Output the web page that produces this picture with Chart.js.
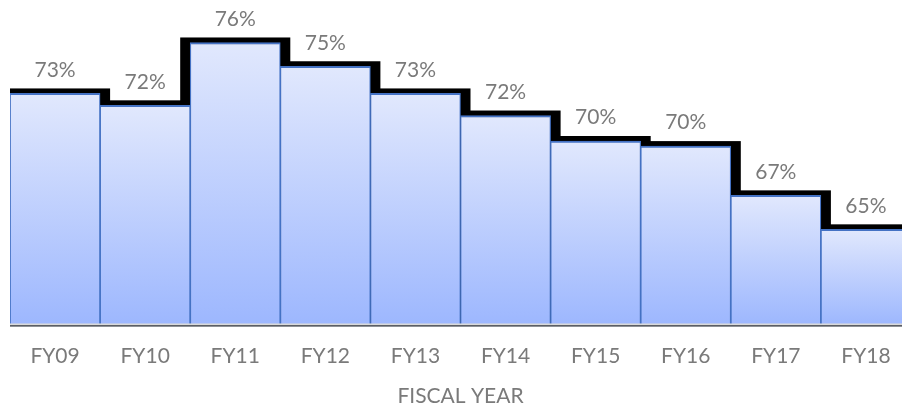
<!DOCTYPE html>
<html>
<head>
<meta charset="utf-8">
<script src="https://cdn.jsdelivr.net/npm/chart.js@4/dist/chart.umd.min.js"></script>
<style>
  html, body { margin: 0; padding: 0; overflow: hidden; background: #fff; }
  #wrap { width: 921px; height: 404px; }
</style>
</head>
<body>
<div id="wrap"><canvas id="fyChart" width="921" height="404"></canvas></div>
<script>
// data (percent)
const years  = ['FY09', 'FY10', 'FY11', 'FY12', 'FY13', 'FY14', 'FY15', 'FY16', 'FY17', 'FY18'];
const shares = [73.0, 72.3, 76.0, 74.6, 73.0, 71.7, 70.2, 69.9, 67.0, 65.0];

const GREY = '#7a7a7a';
Chart.defaults.font.family = 'Lato, "Open Sans", sans-serif';

// black step "shadow" behind the bars
const barShadow = {
  id: 'barShadow',
  beforeDatasetsDraw(chart) {
    const { ctx, chartArea: a } = chart;
    ctx.save();
    ctx.beginPath();
    ctx.rect(a.left, 0, a.right - a.left, a.bottom);
    ctx.clip();
    ctx.fillStyle = '#000';
    chart.getDatasetMeta(0).data.forEach(el => {
      const w = el.width;
      ctx.fillRect(el.x - w / 2 - 10, el.y - 5, w + 20, el.base - el.y + 5);
    });
    ctx.restore();
  }
};

// baseline + value labels
const extras = {
  id: 'extras',
  afterDatasetsDraw(chart) {
    const { ctx, chartArea: a } = chart;
    ctx.save();
    ctx.fillStyle = '#d9d9d9';
    ctx.fillRect(a.left, a.bottom - 1, a.right - a.left, 1.7);
    ctx.fillStyle = '#3b3f48';
    ctx.fillRect(a.left, a.bottom + 0.7, a.right - a.left, 1.4);

    ctx.fillStyle = GREY;
    ctx.font = '21px Lato, "Open Sans", sans-serif';
    ctx.textAlign = 'center';
    ctx.textBaseline = 'middle';
    chart.getDatasetMeta(0).data.forEach((el, i) => {
      ctx.fillText(Math.round(shares[i]) + '%', el.x, el.y - 23.5);
    });
    ctx.restore();
  }
};

new Chart(document.getElementById('fyChart').getContext('2d'), {
  type: 'bar',
  data: {
    labels: years,
    datasets: [{
      data: shares,
      backgroundColor: (c) => {
        const chart = c.chart;
        const a = chart.chartArea;
        if (!a || c.raw == null || !chart.scales.y) return '#c3d2fd';
        const top = chart.scales.y.getPixelForValue(c.raw);
        const g = chart.ctx.createLinearGradient(0, top, 0, a.bottom);
        g.addColorStop(0, '#e1e8fd');
        g.addColorStop(1, '#9db7fe');
        return g;
      },
      borderColor: '#4472c4',
      borderWidth: { top: 2, left: 1.2, right: 1.2, bottom: 0 },
      borderSkipped: false,
      categoryPercentage: 1,
      barPercentage: 1
    }]
  },
  options: {
    responsive: false,
    animation: false,
    layout: { padding: { left: 10, right: 10, top: 0, bottom: 0 } },
    plugins: { legend: { display: false }, tooltip: { enabled: false } },
    scales: {
      y: { display: false, min: 59.4, max: 78.5 },
      x: {
        grid: { display: false, drawTicks: false },
        border: { display: false },
        ticks: { color: GREY, font: { size: 21 }, padding: 19.5 },
        title: {
          display: true,
          text: 'FISCAL YEAR',
          color: GREY,
          font: { size: 21, lineHeight: 0.73 },
          padding: { top: 0, bottom: 0 }
        }
      }
    }
  },
  plugins: [barShadow, extras]
});
</script>
</body>
</html>
